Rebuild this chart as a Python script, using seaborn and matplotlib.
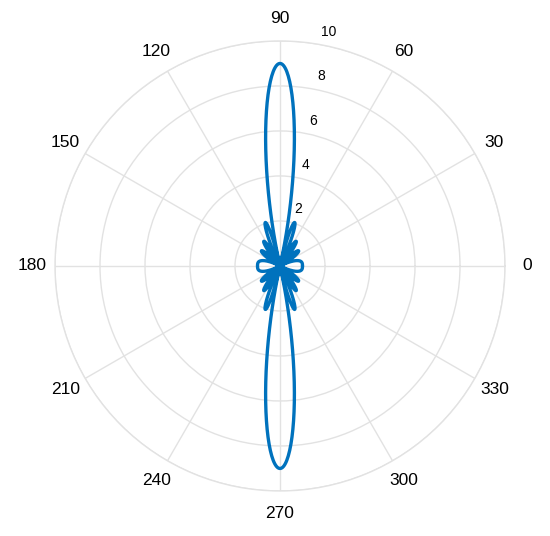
import numpy as np
import pandas as pd
import matplotlib
matplotlib.use("Agg")
import matplotlib.pyplot as plt
import seaborn as sns

# uniform linear array: peak = 9, value 1 on the array axis
n_elements = 9
spacing_wl = 0.5          # element spacing in wavelengths
phase_shift = 0.0         # broadside
theta_deg = np.arange(0, 360.25, 0.25)

r_ticks = [2, 4, 6, 8, 10]
theta_ticks = list(range(0, 360, 30))

# array factor |sin(N psi/2) / sin(psi/2)|
th = np.deg2rad(theta_deg)
psi = 2 * np.pi * spacing_wl * np.cos(th) + phase_shift
with np.errstate(invalid="ignore", divide="ignore"):
    af = np.abs(np.sin(n_elements * psi / 2) / np.sin(psi / 2))
af[~np.isfinite(af)] = n_elements
df = pd.DataFrame({"theta": th, "r": af})

sns.set_theme(style="white")
plt.rcParams["font.family"] = ["Liberation Sans", "DejaVu Sans"]

grid_col = "#e2e2e2"
fig = plt.figure(figsize=(5.5, 5.36), dpi=100)
ax = fig.add_axes([0.1, 0.084, 0.8182, 0.8396], projection="polar")

sns.lineplot(data=df, x="theta", y="r", ax=ax, color="#0072BD", linewidth=2.4,
             sort=False, estimator=None)

ax.set_ylim(0, 10)
ax.set_yticks(r_ticks)
ax.set_yticklabels([])
ax.set_xticks(np.deg2rad(theta_ticks))
ax.set_xticklabels([])
ax.grid(True, color=grid_col, linewidth=1.0)
ax.spines["polar"].set_color(grid_col)
ax.spines["polar"].set_linewidth(1.0)
ax.set_xlabel("")
ax.set_ylabel("")

# angle labels centred on a ring at 1.1x the outer radius (MATLAB style)
for t in theta_ticks:
    ax.text(np.deg2rad(t), 11.0, str(t), ha="center", va="center",
            fontsize=12.5, color="black", clip_on=False)

# radial labels along the 80 degree spoke
for v in r_ticks:
    ax.annotate(str(v), xy=(np.deg2rad(80), v), xytext=(7.2, 8.8),
                textcoords="offset points", ha="center", va="center",
                fontsize=10, color="black")

fig.savefig("out.png", dpi=100)
